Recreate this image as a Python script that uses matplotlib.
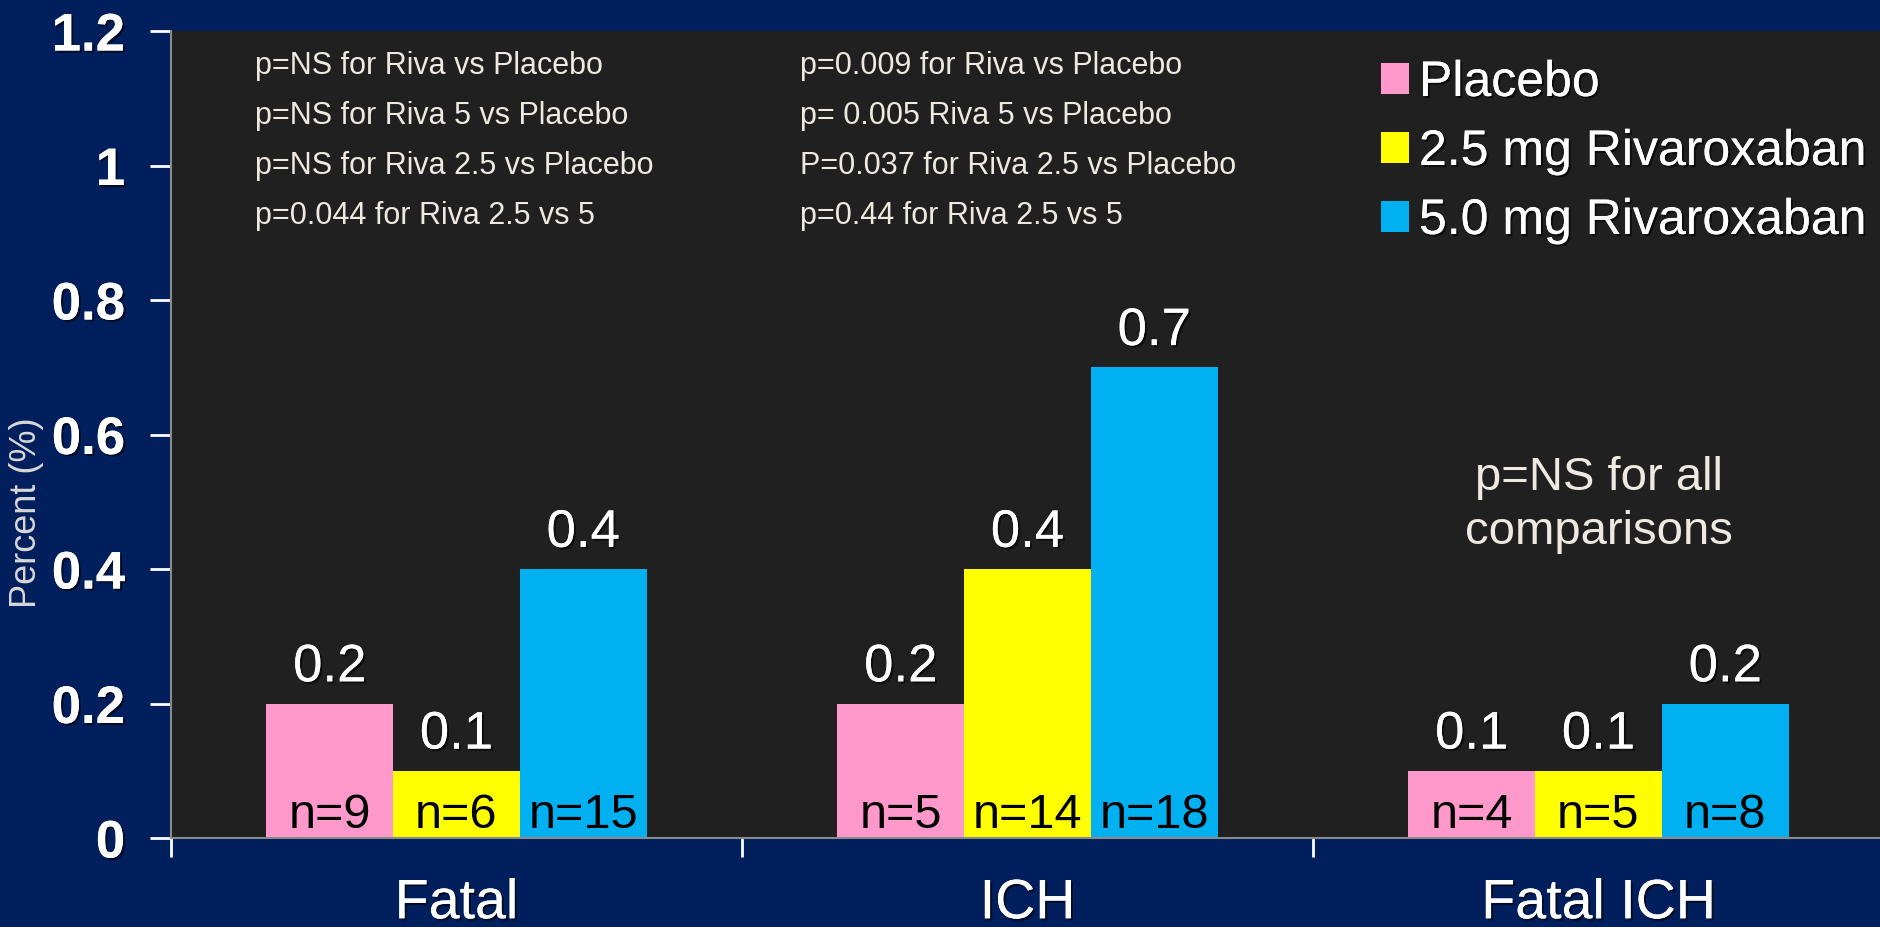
import matplotlib
matplotlib.use('Agg')
import matplotlib.pyplot as plt
import matplotlib.patheffects as pe
import numpy as np

# dados
categorias = ['Fatal', 'ICH', 'Fatal ICH']
grupos = ['Placebo', '2.5 mg Rivaroxaban', '5.0 mg Rivaroxaban']
placebo = [0.2, 0.2, 0.1]
riva25 = [0.1, 0.4, 0.1]
riva50 = [0.4, 0.7, 0.2]
n_placebo = [9, 5, 4]
n_riva25 = [6, 14, 5]
n_riva50 = [15, 18, 8]
pvals_fatal = ['p=NS for Riva vs Placebo',
               'p=NS for Riva 5 vs Placebo',
               'p=NS for Riva 2.5 vs Placebo',
               'p=0.044 for Riva 2.5 vs 5']
pvals_ich = ['p=0.009 for Riva vs Placebo',
             'p= 0.005 Riva 5 vs Placebo',
             'P=0.037 for Riva 2.5 vs Placebo',
             'p=0.44 for Riva 2.5 vs 5']
nota_fatal_ich = 'p=NS for all\ncomparisons'
yticks = [0, 0.2, 0.4, 0.6, 0.8, 1, 1.2]
ytick_labels = ['0', '0.2', '0.4', '0.6', '0.8', '1', '1.2']

BG = '#001F5C'
PLOT_BG = '#202020'
CORES = ['#FF99CC', '#FFFF00', '#00B0F0']
TXT = '#EEEAE2'
sombra = [pe.withSimplePatchShadow(offset=(1.5, -1.5), shadow_rgbFace='black', alpha=0.6), pe.Normal()]

plt.rcParams['font.family'] = ['Liberation Sans', 'DejaVu Sans']

fig = plt.figure(figsize=(18.8, 9.28), dpi=100, facecolor=BG)
ax = fig.add_axes([171 / 1880, 89 / 928, 1713 / 1880, 807 / 928])
ax.set_facecolor(PLOT_BG)

x = np.arange(len(categorias)) + 0.5
w = 0.222
series = [placebo, riva25, riva50]
ns = [n_placebo, n_riva25, n_riva50]
barras = []
for i, (vals, nn, cor, nome) in enumerate(zip(series, ns, CORES, grupos)):
    xs = x + (i - 1) * w
    b = ax.bar(xs, vals, width=w, color=cor, label=nome, zorder=2)
    barras.append(b)
    for xi, v, n in zip(xs, vals, nn):
        ax.text(xi, v + 0.033, f'{v:g}', ha='center', va='baseline',
                color='white', fontsize=38, path_effects=sombra)
        ax.text(xi, 0.016, f'n={n}', ha='center', va='baseline',
                color='black', fontsize=35, zorder=3)

ax.set_xlim(0, 3)
ax.set_ylim(0, 1.2)

# eixo y
ax.set_yticks(yticks)
ax.set_yticklabels(ytick_labels, fontsize=38, fontweight='bold', color='white')
for t in ax.get_yticklabels():
    t.set_path_effects(sombra)
ax.tick_params(axis='y', colors='white', length=15, width=2, pad=18)
ax.set_ylabel('Percent (%)', fontsize=26, color='#D8D8D8')
ax.yaxis.set_label_coords(-0.074, 0.404)

# eixo x: marcas nas fronteiras, rotulos nos centros
ax.set_xticks([0, 1, 2, 3])
ax.set_xticklabels([])
ax.set_xticks(x, minor=True)
ax.set_xticklabels(categorias, minor=True, fontsize=40, color='white')
for t in ax.get_xticklabels(minor=True):
    t.set_path_effects(sombra)
ax.tick_params(axis='x', which='major', colors='white', length=14, width=2)
ax.tick_params(axis='x', which='minor', length=0, pad=29)

for s in ['top', 'right']:
    ax.spines[s].set_visible(False)
for s in ['left', 'bottom']:
    ax.spines[s].set_color('#8A8A8A')
    ax.spines[s].set_linewidth(1.5)

# textos de p
for k, linha in enumerate(pvals_fatal):
    fig.text(255 / 1880, 1 - (74 + 50 * k) / 928, linha, ha='left', va='baseline',
             fontsize=22, color=TXT)
for k, linha in enumerate(pvals_ich):
    fig.text(800 / 1880, 1 - (74 + 50 * k) / 928, linha, ha='left', va='baseline',
             fontsize=22, color=TXT)
ax.text(2.5, 0.497, nota_fatal_ich, ha='center', va='center', fontsize=34,
        color=TXT, linespacing=1.3)

leg = ax.legend(handles=barras, loc='upper left', bbox_to_anchor=(1381 / 1880, 1 - 61 / 928),
                bbox_transform=fig.transFigure, frameon=False, fontsize=36,
                handlelength=0.56, handleheight=0.56, handletextpad=0.2,
                labelspacing=0.46, borderpad=0, borderaxespad=0)
for t in leg.get_texts():
    t.set_color('white')
    t.set_path_effects(sombra)

fig.savefig('out.png', dpi=100, facecolor=BG)
